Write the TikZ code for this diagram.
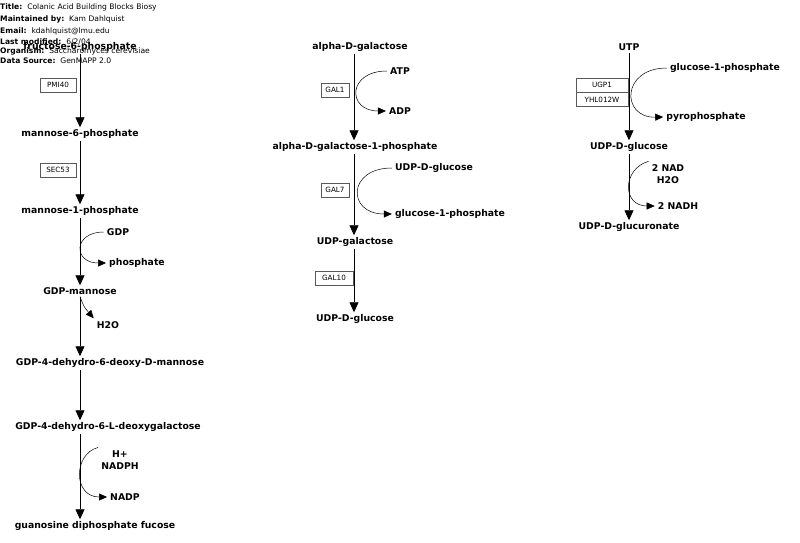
\documentclass[tikz,border=0pt]{standalone}
\usepackage{fontspec}
\setmainfont{DejaVu Sans}
\usepackage{tikz}
\usetikzlibrary{arrows.meta,positioning}

\begin{document}
\begin{tikzpicture}[x=1pt, y=-1pt,
  metab/.style={font=\bfseries\fontsize{9.3}{10}\selectfont, inner sep=2pt},
  cofac/.style={font=\bfseries\fontsize{9.3}{12}\selectfont, inner sep=3pt, align=center},
  gene/.style={draw=black!65, line width=0.6pt, font=\fontsize{7.2}{8}\selectfont,
               minimum height=14pt, inner sep=1pt},
  rxn/.style={line width=0.8pt, -{Triangle[length=10pt,width=9pt]}},
  side/.style={line width=0.5pt, -{Triangle[length=8pt,width=7pt]}},
  info/.style={font=\fontsize{7.6}{8}\selectfont, anchor=west, inner sep=0pt},
]
  \useasboundingbox (0,0) rectangle (800,543);

  % Kopfdaten links oben
  \begin{scope}
    \clip (0,0) rectangle (155,14);
    \node[info] (title) at (0,7.5) {\textbf{Title:}\ \ Colanic Acid Building Blocks Biosynthesis};
  \end{scope}
  \node[info] (maint) at (0,19) {\textbf{Maintained by:}\ \ Kam Dahlquist};
  \node[info] (email) at (0,31) {\textbf{Email:}\ \ kdahlquist@lmu.edu};
  \node[info] (lmod)  at (0,41.5) {\textbf{Last modified:}\ \ 6/2/04};
  \node[info] (org)   at (0,51.5) {\textbf{Organism:}\ \ Saccharomyces cerevisiae};
  \node[info] (src)   at (0,61) {\textbf{Data Source:}\ \ GenMAPP 2.0};

  % Spalten
  \coordinate (lcol) at (80,0);
  \coordinate (mcol) at (354,0);
  \coordinate (rcol) at (629,0);

  % linke Spalte: GDP-Fucose
  \node[metab] (f6p)    at (80,47)   {fructose-6-phosphate};
  \node[metab] (m6p)    at (80,134)  {mannose-6-phosphate};
  \node[metab] (m1p)    at (80,211)  {mannose-1-phosphate};
  \node[metab] (gdpman) at (80,291)  {GDP-mannose};
  \node[metab] (dhm)    at (110,363) {GDP-4-dehydro-6-deoxy-D-mannose};
  \node[metab] (dhg)    at (108,427) {GDP-4-dehydro-6-L-deoxygalactose};
  \node[metab] (gdpfuc) at (95,526)  {guanosine diphosphate fucose};

  \node[gene, minimum width=36] (pmi40) at (58,85)  {PMI40};
  \node[gene, minimum width=36] (sec53) at (58,170) {SEC53};

  \node[cofac] (gdp)   at (118,232) {GDP};
  \node[cofac] (phos)  at (137,263) {phosphate};
  \node[cofac] (h2oa)  at (108,325) {H2O};
  \node[cofac] (nadph) at (120,460) {H+\\NADPH};
  \node[cofac] (nadp)  at (125,497) {NADP};

  \draw[rxn] (f6p.south -| lcol) -- (m6p.north -| lcol);
  \draw[rxn] (m6p.south -| lcol) -- (m1p.north -| lcol);
  \draw[rxn] (m1p.south -| lcol) -- (gdpman.north -| lcol);
  \draw[rxn] (gdpman.south -| lcol) -- (dhm.north -| lcol);
  \draw[rxn] (dhm.south -| lcol) -- (dhg.north -| lcol);
  \draw[rxn] (dhg.south -| lcol) -- (gdpfuc.north -| lcol);

  \draw[side] (gdp.west) .. controls (73,232) and (73,263) .. (phos.west);
  \draw[side] (gdpman.south -| lcol) .. controls (84,307) .. (h2oa.north west);
  \draw[side] (nadph.north west) .. controls (73,454) and (73,497) .. (nadp.west);

  % mittlere Spalte: UDP-Galactose
  \node[metab] (agal)   at (360,47)  {alpha-D-galactose};
  \node[metab] (agal1p) at (355,147) {alpha-D-galactose-1-phosphate};
  \node[metab] (udpgal) at (355,242) {UDP-galactose};
  \node[metab] (udpglc) at (355,319) {UDP-D-glucose};

  \node[gene, minimum width=28] (gal1)  at (335,90)  {GAL1};
  \node[gene, minimum width=28] (gal7)  at (335,190) {GAL7};
  \node[gene, minimum width=38] (gal10) at (334,278) {GAL10};

  \node[cofac] (atp)    at (400,71)  {ATP};
  \node[cofac] (adp)    at (400,111) {ADP};
  \node[cofac] (udpglcb) at (434,168) {UDP-D-glucose};
  \node[cofac] (g1pa)   at (450,214) {glucose-1-phosphate};

  \draw[rxn] (agal.south -| mcol) -- (agal1p.north -| mcol);
  \draw[rxn] (agal1p.south -| mcol) -- (udpgal.north -| mcol);
  \draw[rxn] (udpgal.south -| mcol) -- (udpglc.north -| mcol);

  \draw[side] (atp.west) .. controls (347,71) and (347,111) .. (adp.west);
  \draw[side] (udpglcb.west) .. controls (347,168) and (347,214) .. (g1pa.west);

  % rechte Spalte: UDP-Glucuronat
  \node[metab] (utp)    at (629,47)  {UTP};
  \node[metab] (udpglcc) at (629,147) {UDP-D-glucose};
  \node[metab] (udpgla) at (629,227) {UDP-D-glucuronate};

  \node[gene, minimum width=52] (ugp1) at (602,85) {UGP1};
  \node[gene, minimum width=52, below=0pt of ugp1] (yhl012w) {YHL012W};

  \node[cofac] (g1pb)   at (725,68)  {glucose-1-phosphate};
  \node[cofac] (ppi)    at (706,117) {pyrophosphate};
  \node[cofac] (nad)    at (668,174) {2 NAD\\H2O};
  \node[cofac] (nadh)   at (678,206) {2 NADH};

  \draw[rxn] (utp.south) -- (udpglcc.north);
  \draw[rxn] (udpglcc.south) -- (udpgla.north);

  \draw[side] (g1pb.west) .. controls (621,68) and (621,118) .. (ppi.west);
  \draw[side] (nad.north west) .. controls (622,169) and (622,206) .. (nadh.west);
\end{tikzpicture}
\end{document}
